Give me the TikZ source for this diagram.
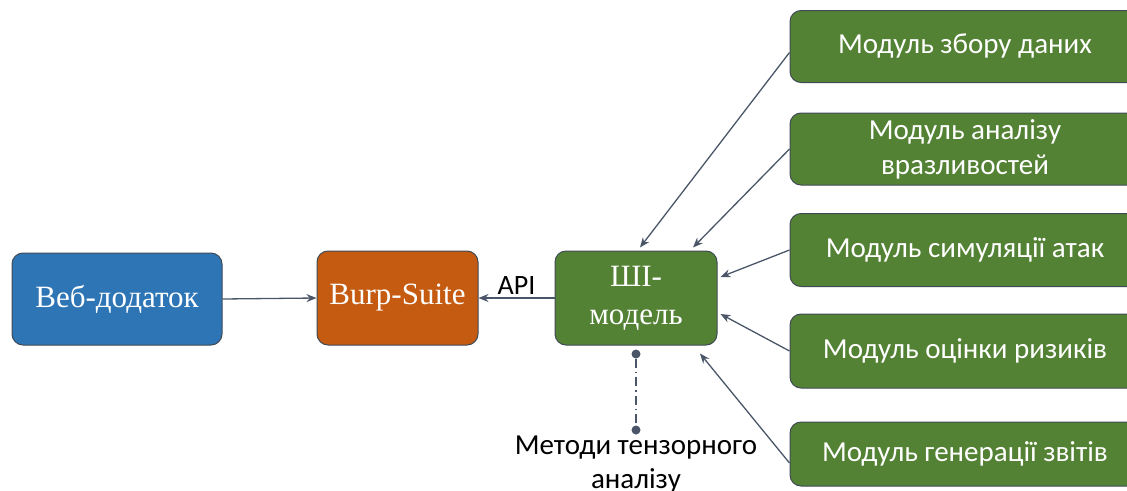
\documentclass[tikz,border=0pt]{standalone}
\usepackage{fontspec}
\setmainfont{Liberation Serif}
\newfontfamily\carl{Carlito}
\usetikzlibrary{arrows.meta,calc}
\definecolor{cblue}{HTML}{2E75B6}
\definecolor{corange}{HTML}{C55A11}
\definecolor{cgreen}{HTML}{548235}
\definecolor{cline}{HTML}{4A5668}
\definecolor{cedge}{HTML}{3F4A55}
\begin{document}
\begin{tikzpicture}[x=1pt,y=-1pt,
  box/.style={draw=cedge,line width=1pt,rounded corners=11pt,inner sep=0pt,align=center,text=white},
  serifbox/.style={box,font=\fontsize{31}{38}\selectfont},
  modbox/.style={box,fill=cgreen,minimum width=350pt,font=\carl\fontsize{29}{35}\selectfont},
  conn/.style={draw=cline,line width=1.3pt,-{Stealth[length=10pt,width=8pt]}},
  dot/.style={circle,fill=cline,inner sep=0pt,minimum size=9pt}]
\useasboundingbox (0,0) rectangle (1127,490);
\node[serifbox,fill=cblue,minimum width=210pt,minimum height=92pt] (web) at (117,299) {Веб-додаток};
\node[serifbox,fill=corange,minimum width=161pt,minimum height=94pt] (burp) at (397.5,298) {Burp-Suite};
\node[serifbox,fill=cgreen,minimum width=162pt,minimum height=94pt] (ai) at (636,298) {ШІ-\\модель};
\node[modbox,minimum height=72pt] (m1) at (965,46.5) {Модуль збору даних};
\node[modbox,minimum height=72pt] (m2) at (965,149) {Модуль аналізу\\вразливостей};
\node[modbox,minimum height=73pt] (m3) at (965,250) {Модуль симуляції атак};
\node[modbox,minimum height=74pt] (m4) at (965,351) {Модуль оцінки ризиків};
\node[modbox,minimum height=64pt] (m5) at (965,454) {Модуль генерації звітів};
\draw[conn] (web.east) -- (burp.west);
\draw[conn] (ai.west) -- node[above,text=black,font=\carl\fontsize{28}{30}\selectfont,yshift=0pt] (api) {API} (burp.east);
\draw[conn] ([yshift=-6pt]m1.west) -- ([xshift=4pt,yshift=3pt]ai.north);
\draw[conn] (m2.west) -- ([xshift=57pt,yshift=3pt]ai.north);
\draw[conn] (m3.west) -- ([xshift=3pt,yshift=21pt]ai.east);
\draw[conn] (m4.west) -- ([xshift=3pt,yshift=-16pt]ai.east);
\draw[conn] ([yshift=-9pt]m5.west) -- ([xshift=64pt,yshift=-8pt]ai.south);
\node[dot] (d1) at (636,354) {};
\node[dot] (d2) at (636,430) {};
\draw[cline,line width=1.3pt,dash pattern=on 9pt off 4pt on 1.5pt off 4pt] (d1) -- (d2);
\node[font=\carl\fontsize{29}{34}\selectfont,align=center,anchor=north] (tm) at (636,432) {Методи тензорного\\аналізу};
\end{tikzpicture}
\end{document}
